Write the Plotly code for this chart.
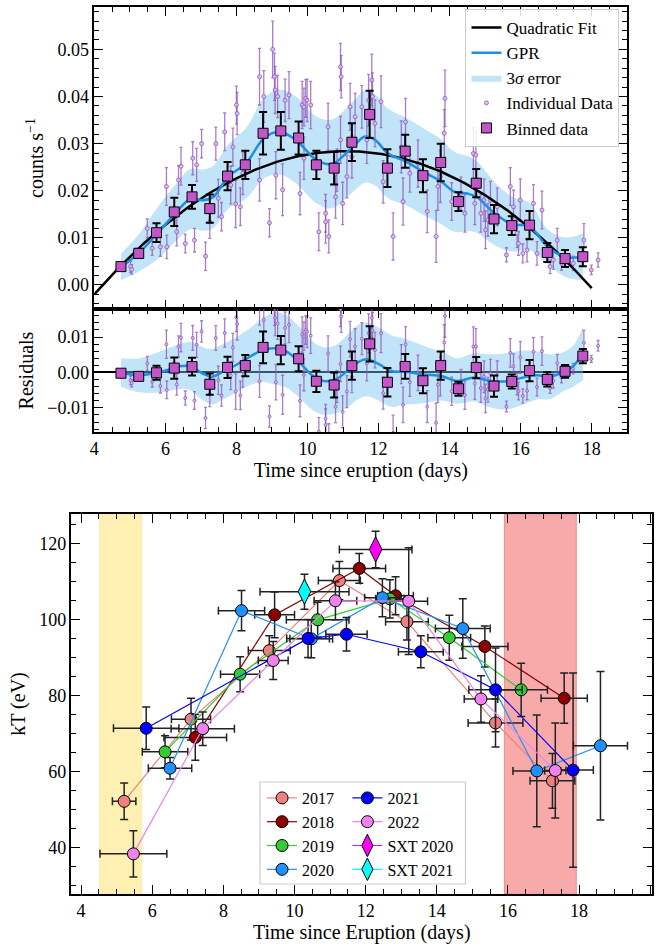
import numpy as np
import plotly.graph_objects as go

FONT = "Liberation Serif, Times New Roman, serif"
W, H = 658, 946

# ---------------- X-ray light curve (counts/s) ----------------
bin_t = [4.75, 5.25, 5.75, 6.25, 6.75, 7.25, 7.75, 8.25, 8.75, 9.25, 9.75, 10.25, 10.75, 11.25,
         11.75, 12.25, 12.75, 13.25, 13.75, 14.25, 14.75, 15.25, 15.75, 16.25, 16.75, 17.25, 17.75]
bin_rate = [0.0039, 0.0067, 0.0111, 0.0155, 0.0187, 0.0162, 0.0231, 0.0255, 0.0322, 0.0327, 0.0312,
            0.0255, 0.0248, 0.0303, 0.0362, 0.0248, 0.0284, 0.0232, 0.0260, 0.0177, 0.0216, 0.0140,
            0.0126, 0.0127, 0.0069, 0.0056, 0.0060]
bin_err = [0.0008, 0.0010, 0.0020, 0.0030, 0.0025, 0.0030, 0.0030, 0.0030, 0.0045, 0.0040, 0.0035,
           0.0030, 0.0035, 0.0040, 0.0050, 0.0040, 0.0035, 0.0035, 0.0040, 0.0020, 0.0030, 0.0030,
           0.0020, 0.0030, 0.0020, 0.0018, 0.0020]

ind_t = [5.02, 5.05, 5.49, 5.63, 5.86, 6.03, 6.04, 6.32, 6.37, 6.44, 6.56, 6.77, 6.82, 6.88, 7.02,
         7.13, 7.25, 7.42, 7.49, 7.58, 7.67, 7.84, 7.90, 7.98, 8.00, 8.02, 8.11, 8.18, 8.65, 8.65,
         8.77, 8.93, 9.02, 9.07, 9.09, 9.11, 9.16, 9.30, 9.37, 9.48, 9.79, 9.85, 9.90, 9.90, 9.95,
         9.99, 10.09, 10.32, 10.51, 10.51, 10.58, 10.60, 10.79, 10.83, 10.93, 10.93, 10.95, 10.99,
         11.11, 11.20, 11.25, 11.34, 11.53, 11.67, 11.72, 11.81, 11.83, 11.90, 12.07, 12.13, 12.41,
         12.64, 12.69, 12.76, 12.88, 13.11, 13.37, 13.62, 13.67, 13.74, 13.85, 13.87, 14.06, 14.32,
         14.43, 14.67, 14.71, 14.74, 14.88, 14.97, 15.01, 15.08, 15.15, 15.34, 15.60, 15.71, 15.80,
         15.90, 15.94, 15.99, 16.06, 16.18, 16.36, 16.46, 16.60, 16.83, 16.92, 17.03, 17.15, 17.48,
         17.78, 17.99, 18.18]
ind_rate = [0.0039, 0.0033, 0.0120, 0.0078, 0.0081, 0.0209, 0.0081, 0.0113, 0.0223, 0.0252, 0.0088,
            0.0269, 0.0095, 0.0255, 0.0300, 0.0061, 0.0134, 0.0300, 0.0184, 0.0145, 0.0325, 0.0212,
            0.0293, 0.0172, 0.0382, 0.0364, 0.0166, 0.0237, 0.0442, 0.0223, 0.0400, 0.0132, 0.0500,
            0.0442, 0.0414, 0.0233, 0.0400, 0.0202, 0.0392, 0.0403, 0.0194, 0.0382, 0.0378, 0.0269,
            0.0396, 0.0392, 0.0382, 0.0113, 0.0134, 0.0152, 0.0336, 0.0103, 0.0187, 0.0244, 0.0308,
            0.0463, 0.0442, 0.0173, 0.0230, 0.0378, 0.0272, 0.0357, 0.0378, 0.0308, 0.0392, 0.0435,
            0.0400, 0.0343, 0.0389, 0.0219, 0.0103, 0.0293, 0.0177, 0.0346, 0.0237, 0.0258, 0.0156,
            0.0103, 0.0209, 0.0230, 0.0322, 0.0396, 0.0177, 0.0194, 0.0152, 0.0279, 0.0173, 0.0276,
            0.0152, 0.0180, 0.0117, 0.0138, 0.0180, 0.0166, 0.0064, 0.0209, 0.0166, 0.0110, 0.0088,
            0.0180, 0.0067, 0.0074, 0.0173, 0.0067, 0.0159, 0.0039, 0.0053, 0.0095, 0.0046, 0.0046,
            0.0095, 0.0032, 0.0053]
ind_err = [0.0012, 0.0010, 0.0020, 0.0015, 0.0020, 0.0040, 0.0025, 0.0030, 0.0030, 0.0040, 0.0020,
           0.0035, 0.0025, 0.0035, 0.0030, 0.0030, 0.0035, 0.0035, 0.0040, 0.0030, 0.0040, 0.0040,
           0.0040, 0.0050, 0.0040, 0.0045, 0.0040, 0.0045, 0.0060, 0.0045, 0.0055, 0.0030, 0.0060,
           0.0050, 0.0050, 0.0050, 0.0045, 0.0055, 0.0045, 0.0050, 0.0045, 0.0050, 0.0040, 0.0045,
           0.0040, 0.0045, 0.0050, 0.0040, 0.0045, 0.0040, 0.0050, 0.0035, 0.0045, 0.0045, 0.0050,
           0.0050, 0.0045, 0.0045, 0.0045, 0.0050, 0.0045, 0.0050, 0.0045, 0.0050, 0.0055, 0.0055,
           0.0050, 0.0050, 0.0055, 0.0045, 0.0050, 0.0055, 0.0050, 0.0050, 0.0040, 0.0050, 0.0045,
           0.0055, 0.0050, 0.0055, 0.0050, 0.0060, 0.0040, 0.0035, 0.0040, 0.0055, 0.0045, 0.0050,
           0.0040, 0.0045, 0.0040, 0.0035, 0.0040, 0.0040, 0.0015, 0.0040, 0.0035, 0.0030, 0.0025,
           0.0045, 0.0020, 0.0025, 0.0040, 0.0025, 0.0040, 0.0015, 0.0020, 0.0025, 0.0015, 0.0015,
           0.0035, 0.0010, 0.0015]

# quadratic fit: rate = A + B*(t - T0) + C*(t - T0)**2
FIT_T0, FIT_A, FIT_B, FIT_C = 11.2, 0.0284, -0.00015, -0.000607
fit_span = [4.0, 18.0]

# Gaussian-process regression of the count rate and its 3-sigma half width
gpr_t = [4.75, 5.27, 5.78, 6.28, 6.70, 7.07, 7.35, 7.77, 8.27, 8.77, 9.20, 9.67, 10.26, 10.69, 11.27,
         11.62, 11.90, 12.27, 12.77, 13.27, 13.77, 14.13, 14.50, 14.76, 15.26, 15.76, 16.25, 16.76,
         17.26, 17.76]
gpr_rate = [0.0038, 0.0069, 0.0110, 0.0152, 0.0182, 0.0180, 0.0187, 0.0230, 0.0258, 0.0311, 0.0325,
            0.0308, 0.0265, 0.0257, 0.0293, 0.0315, 0.0308, 0.0279, 0.0262, 0.0240, 0.0219, 0.0198,
            0.0194, 0.0187, 0.0152, 0.0129, 0.0124, 0.0081, 0.0059, 0.0060]
gpr_3sig = [0.0028, 0.0040, 0.0055, 0.0060, 0.0064, 0.0065, 0.0066, 0.0068, 0.0075, 0.0085, 0.0090,
            0.0092, 0.0092, 0.0094, 0.0096, 0.0098, 0.0097, 0.0095, 0.0093, 0.0092, 0.0090, 0.0085,
            0.0080, 0.0076, 0.0067, 0.0058, 0.0050, 0.0037, 0.0042, 0.0050]

# GPR of the fit residuals
res_gpr_t = [4.75, 5.28, 5.87, 6.46, 6.70, 7.05, 7.30, 7.62, 7.99, 8.37, 8.74, 9.07, 9.39, 9.76, 10.13,
             10.46, 10.78, 11.16, 11.44, 11.67, 12.00, 12.36, 12.74, 13.30, 13.76, 14.22, 14.69, 15.15,
             15.62, 16.08, 16.46, 16.83, 17.20, 17.48, 17.76]
res_gpr = [0.0000, -0.0008, 0.0002, 0.0018, 0.0018, -0.0003, -0.0012, 0.0002, 0.0021, 0.0044, 0.0063,
           0.0068, 0.0060, 0.0030, -0.0008, -0.0024, -0.0020, 0.0007, 0.0030, 0.0037, 0.0024, 0.0004,
           0.0002, -0.0006, -0.0010, -0.0024, -0.0014, -0.0024, -0.0025, -0.0014, -0.0008, -0.0012,
           0.0002, 0.0018, 0.0054]
res_3sig = [0.0040, 0.0048, 0.0058, 0.0064, 0.0068, 0.0075, 0.0078, 0.0078, 0.0078, 0.0080, 0.0090,
            0.0102, 0.0102, 0.0100, 0.0097, 0.0095, 0.0096, 0.0103, 0.0105, 0.0104, 0.0103, 0.0101,
            0.0093, 0.0080, 0.0069, 0.0064, 0.0068, 0.0075, 0.0080, 0.0076, 0.0068, 0.0063, 0.0055,
            0.0058, 0.0075]

# ---------------- Blackbody temperature per eruption ----------------
t2017 = [5.21, 7.09, 9.29, 11.26, 13.16, 15.65, 17.25]
t2017_err = [0.33, 0.55, 0.59, 0.59, 0.60, 0.77, 0.63]
kt2017 = [52.2, 73.8, 91.8, 110.2, 99.4, 72.8, 57.6]
kt2017_err = [4.8, 5.5, 3.9, 5.0, 4.8, 6.3, 7.2]

t2018 = [7.21, 9.44, 11.82, 12.84, 15.35, 17.58]
t2018_err = [0.88, 0.56, 0.74, 0.50, 0.65, 0.65]
kt2018 = [69.0, 101.2, 113.4, 106.2, 92.9, 79.3]
kt2018_err = [6.0, 6.0, 3.9, 5.0, 5.4, 6.6]

t2019 = [6.36, 8.47, 10.65, 12.68, 14.35, 16.37]
t2019_err = [0.64, 0.55, 0.88, 0.40, 0.60, 0.74]
kt2019 = [65.2, 85.6, 99.9, 105.4, 95.2, 81.5]
kt2019_err = [4.2, 4.6, 4.6, 5.0, 5.9, 7.0]

t2020 = [6.50, 8.51, 10.47, 12.47, 14.73, 16.81, 18.60]
t2020_err = [0.61, 0.65, 0.60, 0.50, 0.77, 0.67, 0.76]
kt2020 = [60.9, 102.3, 94.9, 105.7, 97.6, 60.2, 66.8]
kt2020_err = [2.8, 5.3, 5.0, 5.0, 7.8, 14.7, 19.5]

t2021 = [5.83, 10.38, 11.46, 13.55, 15.65, 17.83]
t2021_err = [0.92, 0.60, 0.58, 0.63, 0.75, 0.57]
kt2021 = [71.4, 95.0, 96.1, 91.5, 81.5, 60.4]
kt2021_err = [5.6, 5.0, 4.4, 4.2, 11.0, 25.5]

t2022 = [5.47, 7.42, 9.40, 11.15, 13.21, 15.24, 17.33]
t2022_err = [0.94, 0.89, 0.42, 0.60, 0.53, 0.47, 0.30]
kt2022 = [38.4, 71.3, 89.2, 104.9, 104.8, 79.1, 60.3]
kt2022_err = [6.1, 4.4, 5.0, 5.0, 14.0, 6.1, 12.5]

t_sxt2020, t_sxt2020_err, kt_sxt2020, kt_sxt2020_err = [12.28], [1.02], [118.4], [4.8]
t_sxt2021, t_sxt2021_err, kt_sxt2021, kt_sxt2021_err = [10.28], [1.25], [107.3], [4.6]

early_window = [4.5, 5.72]
late_window = [15.9, 17.92]

# ---------------- styling ----------------
PURPLE = "rgba(140, 80, 190, 0.75)"
BIN_FILL = "#c455c9"
GPR_BLUE = "#1f8fe6"
BAND = "rgba(120, 196, 240, 0.45)"


def quad(t):
    t = np.asarray(t, dtype=float)
    return FIT_A + FIT_B * (t - FIT_T0) + FIT_C * (t - FIT_T0) ** 2


def axis_style(dtick, minor_dtick, rng, **kw):
    d = dict(
        range=rng, dtick=dtick, showgrid=False, zeroline=False,
        showline=True, linecolor="black", linewidth=1.5, mirror="allticks",
        ticks="inside", ticklen=9, tickwidth=1.3, tickcolor="black",
        minor=dict(ticks="inside", ticklen=5, tickwidth=1, tickcolor="black",
                   dtick=minor_dtick, showgrid=False),
        tickfont=dict(family=FONT, size=18, color="black"),
        title_font=dict(family=FONT, size=20, color="black"),
    )
    d.update(kw)
    return d


fig = go.Figure()

# ----- top panel: light curve -----
upper = np.array(gpr_rate) + np.array(gpr_3sig)
lower = np.array(gpr_rate) - np.array(gpr_3sig)
fig.add_trace(go.Scatter(x=gpr_t, y=lower, mode="lines", line=dict(width=0, shape="spline"),
                         showlegend=False, hoverinfo="skip", xaxis="x", yaxis="y"))
fig.add_trace(go.Scatter(x=gpr_t, y=upper, mode="lines", line=dict(width=0, shape="spline"),
                         fill="tonexty", fillcolor=BAND, name="3<i>σ</i> error",
                         legend="legend", legendrank=3, xaxis="x", yaxis="y"))

fig.add_trace(go.Scatter(
    x=ind_t, y=ind_rate, mode="markers", name="Individual Data", legendrank=4,
    marker=dict(symbol="circle", size=4, color="rgba(215, 190, 235, 0.9)",
                line=dict(color=PURPLE, width=1)),
    error_y=dict(type="data", array=ind_err, color=PURPLE, thickness=1.3, width=1.5),
    xaxis="x", yaxis="y"))

t_fit = np.linspace(fit_span[0], fit_span[1], 200)
fig.add_trace(go.Scatter(x=t_fit, y=quad(t_fit), mode="lines", name="Quadratic Fit",
                         legendrank=1, line=dict(color="black", width=2.5),
                         xaxis="x", yaxis="y"))
fig.add_trace(go.Scatter(x=gpr_t, y=gpr_rate, mode="lines", name="GPR", legendrank=2,
                         line=dict(color=GPR_BLUE, width=2.5, shape="spline"),
                         xaxis="x", yaxis="y"))
fig.add_trace(go.Scatter(
    x=bin_t, y=bin_rate, mode="markers", name="Binned data", legendrank=5,
    marker=dict(symbol="square", size=10, color=BIN_FILL, line=dict(color="black", width=1)),
    error_y=dict(type="data", array=bin_err, color="black", thickness=2, width=4),
    xaxis="x", yaxis="y"))

# ----- middle panel: residuals about the quadratic fit -----
r_upper = np.array(res_gpr) + np.array(res_3sig)
r_lower = np.array(res_gpr) - np.array(res_3sig)
fig.add_trace(go.Scatter(x=res_gpr_t, y=r_lower, mode="lines", line=dict(width=0, shape="spline"),
                         showlegend=False, hoverinfo="skip", xaxis="x2", yaxis="y2"))
fig.add_trace(go.Scatter(x=res_gpr_t, y=r_upper, mode="lines", line=dict(width=0, shape="spline"),
                         fill="tonexty", fillcolor=BAND, showlegend=False,
                         xaxis="x2", yaxis="y2"))
fig.add_trace(go.Scatter(
    x=ind_t, y=np.array(ind_rate) - quad(ind_t), mode="markers", showlegend=False,
    marker=dict(symbol="circle", size=3, color="rgba(215, 190, 235, 0.9)",
                line=dict(color=PURPLE, width=1)),
    error_y=dict(type="data", array=ind_err, color=PURPLE, thickness=1.3, width=1.5),
    xaxis="x2", yaxis="y2"))
fig.add_trace(go.Scatter(x=res_gpr_t, y=res_gpr, mode="lines", showlegend=False,
                         line=dict(color=GPR_BLUE, width=2.5, shape="spline"),
                         xaxis="x2", yaxis="y2"))
fig.add_trace(go.Scatter(
    x=bin_t, y=np.array(bin_rate) - quad(bin_t), mode="markers", showlegend=False,
    marker=dict(symbol="square", size=10, color=BIN_FILL, line=dict(color="black", width=1)),
    error_y=dict(type="data", array=bin_err, color="black", thickness=2, width=4),
    xaxis="x2", yaxis="y2"))

# ----- bottom panel: kT evolution -----
series = [
    ("2017", t2017, t2017_err, kt2017, kt2017_err, "#f08080", "circle", "legend2"),
    ("2018", t2018, t2018_err, kt2018, kt2018_err, "#8b0000", "circle", "legend2"),
    ("2019", t2019, t2019_err, kt2019, kt2019_err, "#32cd32", "circle", "legend2"),
    ("2020", t2020, t2020_err, kt2020, kt2020_err, "#1e90ff", "circle", "legend2"),
    ("2021", t2021, t2021_err, kt2021, kt2021_err, "#0000ff", "circle", "legend3"),
    ("2022", t2022, t2022_err, kt2022, kt2022_err, "#ee82ee", "circle", "legend3"),
    ("SXT 2020", t_sxt2020, t_sxt2020_err, kt_sxt2020, kt_sxt2020_err, "#ff00ff", "diamond-tall", "legend3"),
    ("SXT 2021", t_sxt2021, t_sxt2021_err, kt_sxt2021, kt_sxt2021_err, "#00ffff", "diamond-tall", "legend3"),
]
for name, t, te, kt, kte, col, sym, leg in series:
    fig.add_trace(go.Scatter(
        x=t, y=kt, name=name, legend=leg, mode="lines+markers",
        line=dict(color=col, width=1.2),
        marker=dict(symbol=sym, size=18 if sym != "circle" else 12, color=col,
                    line=dict(color="black", width=1)),
        error_x=dict(type="data", array=te, color="#222222", thickness=1.5, width=4),
        error_y=dict(type="data", array=kte, color="#222222", thickness=1.5, width=4),
        xaxis="x3", yaxis="y3"))

# shaded time windows
shapes = [
    dict(type="rect", xref="x3", yref="y3 domain", x0=early_window[0], x1=early_window[1],
         y0=0, y1=1, fillcolor="#fdf0b2", line=dict(width=0), layer="below"),
    dict(type="rect", xref="x3", yref="y3 domain", x0=late_window[0], x1=late_window[1],
         y0=0, y1=1, fillcolor="#f8aaaa", line=dict(color="#f08a8a", width=1), layer="below"),
    # frame behind the two-column legend
    dict(type="rect", xref="paper", yref="paper", x0=257 / W, x1=464 / W,
         y0=1 - 884 / H, y1=1 - 782 / H, fillcolor="white",
         line=dict(color="#cccccc", width=1.2), layer="above"),
]

xd_top = [90 / W, 627 / W]
xd_bot = [67 / W, 652 / W]

fig.update_layout(
    width=W, height=H, margin=dict(l=0, r=0, t=0, b=0),
    paper_bgcolor="white", plot_bgcolor="white",
    font=dict(family=FONT, color="black"),
    shapes=shapes,
    xaxis=axis_style(2, 0.5, [4, 19], domain=xd_top, anchor="y", showticklabels=False),
    yaxis=axis_style(0.01, 0.002, [-0.0051, 0.059], domain=[1 - 309 / H, 1 - 7 / H],
                     anchor="x", tickformat=".2f", title_text="counts s<sup>−1</sup>",
                     title_standoff=8),
    xaxis2=axis_style(2, 0.5, [4, 19], domain=xd_top, anchor="y2",
                      title_text="Time since eruption (days)", title_standoff=4),
    yaxis2=axis_style(0.01, 0.002, [-0.0168, 0.0179], domain=[1 - 432 / H, 1 - 309 / H],
                      anchor="x2", tickformat=".2f", title_text="Residuals",
                      title_standoff=8,
                      zeroline=True, zerolinecolor="black", zerolinewidth=1.5),
    xaxis3=axis_style(2, 0.5, [3.73, 20.05], domain=xd_bot, anchor="y3",
                      title_text="Time since Eruption (days)", title_standoff=4),
    yaxis3=axis_style(20, 5, [27.85, 127.7], domain=[1 - 894 / H, 1 - 514 / H],
                      anchor="x3", title_text="kT (eV)", title_standoff=8),
    legend=dict(x=464 / W, y=1 - 9 / H, xanchor="left", yanchor="top",
                bgcolor="rgba(255,255,255,0.85)", bordercolor="#cccccc", borderwidth=1,
                font=dict(family=FONT, size=17, color="black"), traceorder="normal",
                itemwidth=30),
    legend2=dict(x=259 / W, y=1 - 781 / H, xanchor="left", yanchor="top",
                 bgcolor="rgba(0,0,0,0)", font=dict(family=FONT, size=16, color="black"),
                 itemwidth=30),
    legend3=dict(x=345 / W, y=1 - 781 / H, xanchor="left", yanchor="top",
                 bgcolor="rgba(0,0,0,0)", font=dict(family=FONT, size=16, color="black"),
                 itemwidth=30),
)

fig.write_html("out.html")
